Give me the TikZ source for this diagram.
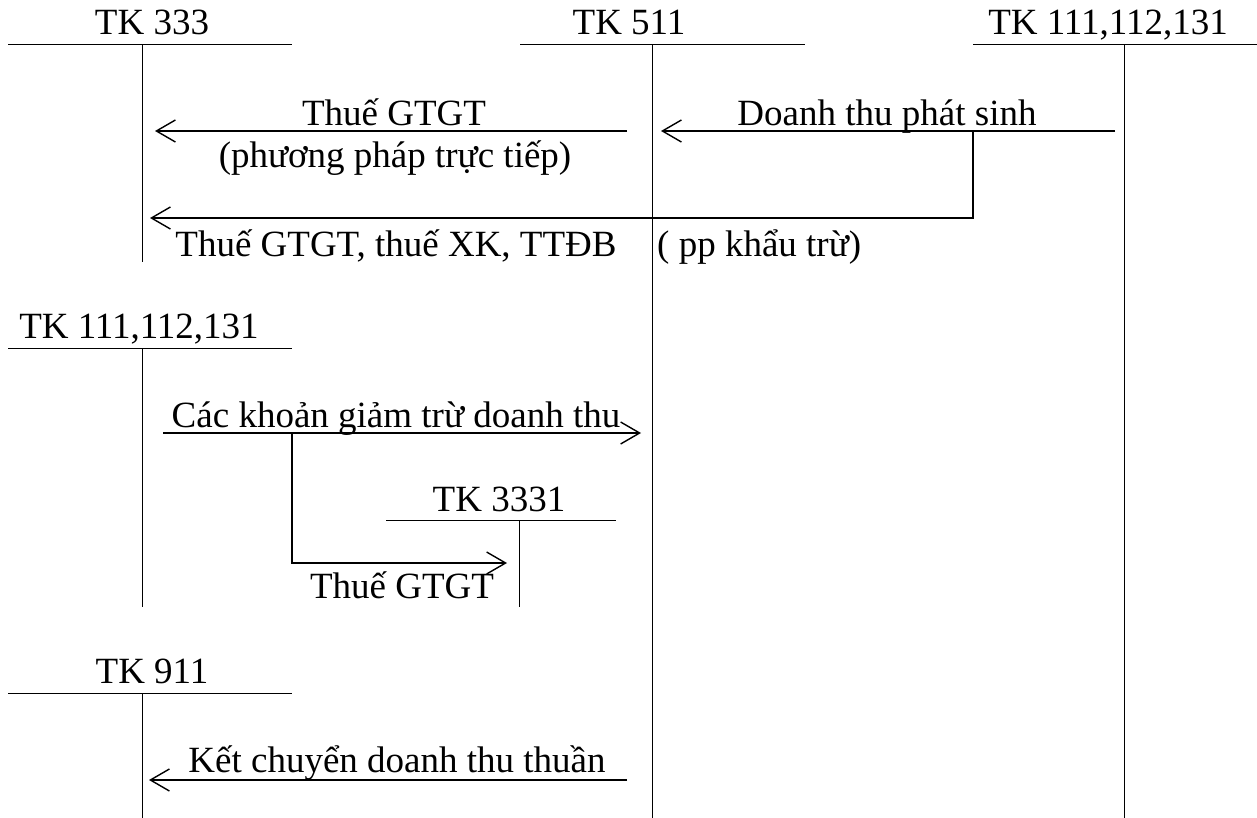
\documentclass[tikz,border=0pt]{standalone}
\usepackage{fontspec}
\setmainfont{Liberation Serif}
\usetikzlibrary{arrows.meta}
\begin{document}
\begin{tikzpicture}[x=1pt,y=-1pt,
  acct/.style={line width=1pt},
  flow/.style={line width=1.6pt,-{Straight Barb[length=19pt,width=22pt,line width=1.4pt]}},
  lbl/.style={inner sep=0pt,anchor=base,font=\fontsize{37}{44}\selectfont}]
\useasboundingbox (0,0) rectangle (1257,818);

% T-accounts: title, top rule, vertical stem
\node[lbl] (t333) at (152,35) {TK 333};
\draw[acct] (8,45) -- (292,45) (142,45) -- (142,262);
\node[lbl] (t511) at (629,35) {TK 511};
\draw[acct] (520,45) -- (805,45) (652,45) -- (652,818);
\node[lbl] (t111a) at (1108,35) {TK 111,112,131};
\draw[acct] (973,45) -- (1257,45) (1124,45) -- (1124,818);
\node[lbl] (t111b) at (139,338) {TK 111,112,131};
\draw[acct] (8,348) -- (292,348) (142,348) -- (142,607);
\node[lbl] (t3331) at (499,511) {TK 3331};
\draw[acct] (386,520) -- (616,520) (519,520) -- (519,607);
\node[lbl] (t911) at (152,683) {TK 911};
\draw[acct] (8,693) -- (292,693) (142,693) -- (142,818);

% flow end points
\coordinate (a1s) at (627,131);  \coordinate (a1e) at (155,131);
\coordinate (a2s) at (1115,131); \coordinate (a2e) at (661,131);
\coordinate (b1)  at (973,131);  \coordinate (b2)  at (973,218);
\coordinate (b3)  at (150,218);
\coordinate (c1s) at (163,433);  \coordinate (c1e) at (641,433);
\coordinate (d1)  at (292,433);  \coordinate (d2)  at (292,563);
\coordinate (d3)  at (507,563);
\coordinate (e1s) at (627,780);  \coordinate (e1e) at (149,780);

% flows
\draw[flow] (a1s) -- (a1e);
\draw[flow] (a2s) -- (a2e);
\draw[flow] (b1) -- (b2) -- (b3);
\draw[flow] (c1s) -- (c1e);
\draw[flow] (d1) -- (d2) -- (d3);
\draw[flow] (e1s) -- (e1e);

% flow labels
\node[lbl] (l1) at (394,126) {Thuế GTGT};
\node[lbl] (l1b) at (395,168) {(phương pháp trực tiếp)};
\node[lbl] (l2) at (887,126) {Doanh thu phát sinh};
\node[lbl] (l3) at (396,256) {Thuế GTGT, thuế XK, TTĐB};
\node[lbl,anchor=base west] (l3b) at (657,256) {( pp khẩu trừ)};
\node[lbl] (l4) at (396,427) {Các khoản giảm trừ doanh thu};
\node[lbl] (l5) at (402,598) {Thuế GTGT};
\node[lbl] (l6) at (397,772) {Kết chuyển doanh thu thuần};
\end{tikzpicture}
\end{document}
